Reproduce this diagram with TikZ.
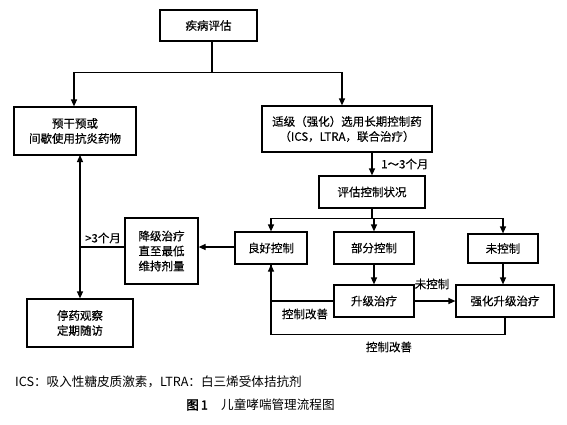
\documentclass[tikz,border=0pt]{standalone}
\usepackage{fontspec}
\setmainfont[FakeBold=0.4,AutoFakeBold=2]{Noto Sans CJK SC}
\newfontfamily\capfont[AutoFakeBold=2]{Noto Sans CJK SC}
\usetikzlibrary{arrows.meta,calc}
\begin{document}
\begin{tikzpicture}[x=1pt,y=-1pt,
  box/.style={draw,line width=1.2pt,align=center,inner sep=0pt,font=\fontsize{11.5}{15}\selectfont},
  conn/.style={line width=1.2pt},
  arr/.style={conn,-{Triangle[length=7pt,width=6pt]}},
  lbl/.style={font=\fontsize{11.5}{13}\selectfont,inner sep=0pt}]
\useasboundingbox (0,0) rectangle (567,424);
\node[box,minimum width=97,minimum height=31] (assess) at (208.5,25.5) {疾病评估};
\node[box,minimum width=122,minimum height=48] (pre) at (75,131) {预干预或\\间歇使用抗炎药物};
\node[box,minimum width=170,minimum height=46] (long) at (347,129) {适级（强化）选用长期控制药\\（ICS，LTRA，联合治疗）};
\node[box,minimum width=106,minimum height=32] (eval) at (372,192) {评估控制状况};
\node[box,minimum width=72,minimum height=32] (good) at (271,248) {良好控制};
\node[box,minimum width=80,minimum height=32] (part) at (374,248) {部分控制};
\node[box,minimum width=70,minimum height=29] (unctl) at (503,248.5) {未控制};
\node[box,minimum width=80,minimum height=32] (up) at (374,301) {升级治疗};
\node[box,minimum width=98,minimum height=32] (strong) at (505,301) {强化升级治疗};
\node[box,minimum width=73,minimum height=66] (down) at (161.5,251) {降级治疗\\直至最低\\维持剂量};
\node[box,minimum width=106,minimum height=48] (stop) at (80,323) {停药观察\\定期随访};
% top branch
\coordinate (tb) at ($(assess.south)+(3.5,31)$);
\draw[conn] ($(assess.south)+(3.5,0)$) -- (tb);
\draw[arr] (tb) -| ($(pre.north)+(-1,0)$);
\draw[arr] (tb) -| ($(long.north)+(-5,0)$);
% long -> eval
\draw[arr] (eval.north |- long.south) -- (eval.north);
\node[lbl,anchor=west] (m13) at (381,164) {1～3个月};
% eval branch
\coordinate (eb) at ($(eval.south)+(0,10)$);
\draw[conn] (eval.south) -- (eb);
\draw[arr] (eb) -| (good.north);
\draw[arr] (eb) -| (part.north);
\draw[arr] (eb) -| (unctl.north);
% part -> up, unctl -> strong
\draw[arr] (part.south) -- (up.north);
\draw[arr] (unctl.south) -- (unctl.south |- strong.north);
\draw[arr] (up.east) -- (strong.west);
\node[lbl] (uc) at (432,284) {未控制};
% improvements
\draw[arr] (up.west) -| (good.south);
\node[lbl] (imp1) at (305,314) {控制改善};
\draw[conn] (strong.south) -- ++(0,17) -| (good.south);
\node[lbl] (imp2) at (389,347) {控制改善};
% good -> down
\draw[arr] ($(good.west)+(0,-1)$) -- ($(good.west -| down.east)+(0,-1)$);
% down -> vertical line
\coordinate (vx) at (80,247);
\draw[conn] ($(down.west)+(0,-4)$) -- (vx);
\draw[arr] (vx) -- (80,155);
\draw[arr] (vx) -- (stop.north);
\node[lbl] (m3) at (103,238) {>3个月};
% caption
\node[anchor=west,inner sep=0pt,font=\capfont\fontsize{12.6}{14}\selectfont] (note) at (15,382) {ICS：吸入性糖皮质激素，LTRA：白三烯受体拮抗剂};
\node[anchor=west,inner sep=0pt,font=\capfont\bfseries\fontsize{12.6}{14}\selectfont] (fig) at (186,405) {图\,1};
\node[anchor=west,inner sep=0pt,font=\capfont\fontsize{12.6}{14}\selectfont] (title) at (221,405) {儿童哮喘管理流程图};
\end{tikzpicture}
\end{document}
